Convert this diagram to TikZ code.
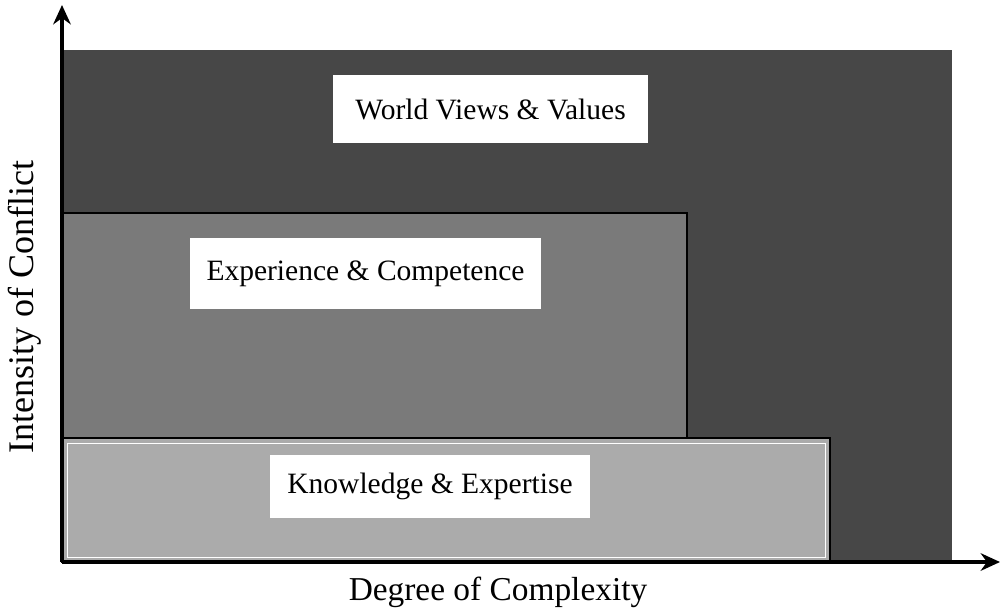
\documentclass[tikz,border=0pt]{standalone}
\usepackage{fontspec}
\setmainfont{Liberation Serif}
\usetikzlibrary{arrows.meta}
\begin{document}
\begin{tikzpicture}[x=0.02cm,y=-0.02cm,
  lab/.style={fill=white, inner sep=0pt, font=\fontsize{16.8}{20}\selectfont},
  axisline/.style={line width=2.4pt, -{Stealth[length=11pt,width=10pt]}},
  axislab/.style={font=\fontsize{19}{22}\selectfont},
  band/.style={draw=black, line width=1.6pt}]
\useasboundingbox (0,0) rectangle (1000,613);
% layers
\fill[black!72] (62,50) rectangle (952,562);
\filldraw[band, fill=black!52] (62,213) rectangle (687,438);
\filldraw[band, fill=black!33] (62,438) rectangle (830,562);
\draw[white, line width=0.5pt] (67,443) rectangle (825,557);
% labels
\node[lab, minimum width=6.3cm, minimum height=1.36cm] (wv) at (490.5,109) {World Views \& Values};
\node[lab, minimum width=7.02cm, minimum height=1.42cm] (ec) at (365.5,273.5) {Experience \& Competence};
\node[lab, minimum width=6.4cm, minimum height=1.26cm] (ke) at (430,486.5) {Knowledge \& Expertise};
% axes
\coordinate (O) at (62,562);
\coordinate (T) at (62,5);
\coordinate (R) at (1000,562);
\draw[axisline] (O) -- (T);
\draw[axisline] (O) -- (R);
\node[axislab, font=\fontsize{20.5}{24}\selectfont, rotate=90] (yl) at (25,307) {Intensity of Conflict};
\node[axislab] (xl) at (498,592) {Degree of Complexity};
\end{tikzpicture}
\end{document}
